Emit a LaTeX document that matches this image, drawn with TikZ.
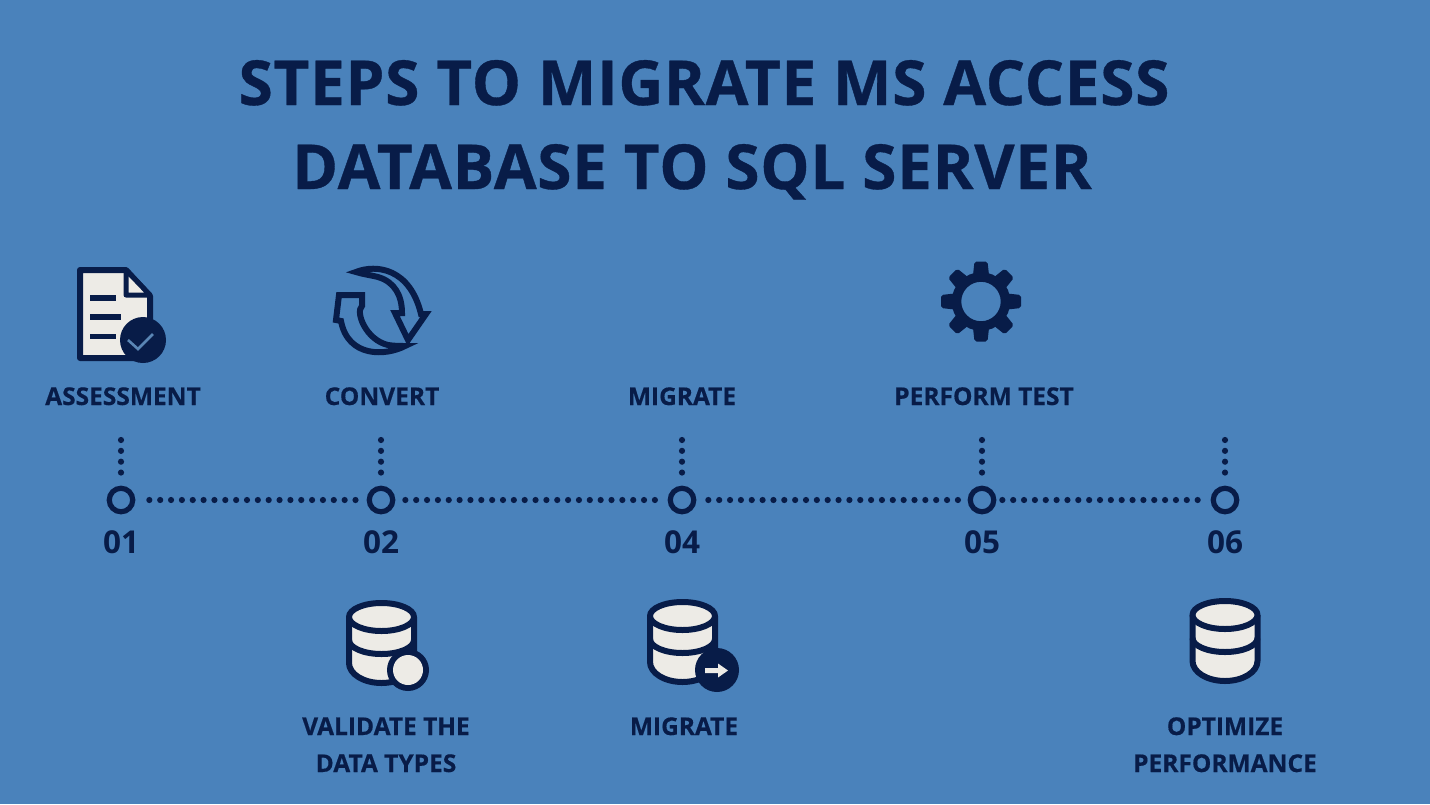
\documentclass[tikz,border=0pt]{standalone}
\usepackage{fontspec}
\setmainfont{Open Sans}
\newfontface\titlefont{Open Sans Bold}[LetterSpace=1.2,FakeBold=0.6]
\newfontface\labelfont{Open Sans Bold}[FakeBold=0.4]
\newfontface\numfont{Open Sans Bold}
\definecolor{bgblue}{HTML}{4A82BB}
\definecolor{navy}{HTML}{081C48}
\definecolor{paper}{HTML}{EDEBE6}
\definecolor{tick}{HTML}{5A86B5}
\tikzset{
  x=1pt,y=-1pt,
  titletext/.style={text=navy,anchor=base,inner sep=0pt,font=\titlefont\fontsize{62}{62}\selectfont},
  labeltext/.style={text=navy,anchor=base,inner sep=0pt,font=\labelfont\fontsize{24.5}{24.5}\selectfont},
  numtext/.style={text=navy,anchor=base,inner sep=0pt,font=\numfont\fontsize{31.5}{31.5}\selectfont},
  stepdot/.style={circle,draw=navy,line width=5.2pt,minimum size=23.5pt,inner sep=0pt},
  dotline/.style={draw=navy,line width=6.2pt,line cap=round,dash pattern=on 0pt off 10.85pt},
  iconline/.style={draw=navy,line width=6pt,line join=round},
  pics/dbicon/.style={code={
    \path[fill=paper] (-32.5,0) arc[start angle=180,end angle=360,x radius=32.5,y radius=14]
      -- (32.5,46) arc[start angle=0,end angle=180,x radius=32.5,y radius=20] -- cycle;
    \path[iconline] (-32.5,0) -- (-32.5,46) arc[start angle=180,end angle=0,x radius=32.5,y radius=20] -- (32.5,0);
    \path[iconline] (-32.5,23) arc[start angle=180,end angle=0,x radius=32.5,y radius=14];
    \path[iconline,fill=paper] (0,0) ellipse[x radius=32.5,y radius=14];
  }}
}
\begin{document}
\begin{tikzpicture}
\useasboundingbox (0,0) rectangle (1430,804);
\fill[bgblue] (0,0) rectangle (1430,804);
% title
\node[titletext] (t1) at (704,105) {STEPS TO MIGRATE MS ACCESS};
\node[titletext] (t2) at (692,189) {DATABASE TO SQL SERVER};
% document icon
\path[iconline,fill=paper,line width=6pt] (80,270) -- (126,270) -- (150,296) -- (150,358) -- (80,358) -- cycle;
\path[iconline,fill=paper,line width=5pt] (126,270) -- (126,295) -- (150,295) -- cycle;
\foreach \yy/\xe in {298/116,317/121,336.5/116}{\fill[navy] (90,\yy-2.8) rectangle (\xe,\yy+2.8);}
\fill[navy] (143,340) circle[radius=23];
\draw[tick,line width=2.6pt] (128,340) -- (138,349) -- (153,334);
% convert icon
\path[iconline,line width=6pt,line join=miter]
  (356,272) .. controls (376,264) and (410,268) .. (421,314)
  -- (426,314) -- (408,340) -- (395,313) -- (402,313)
  .. controls (402,296) and (395,282) .. (378,277) .. controls (370,275) and (362,274) .. (356,272) -- cycle;
\path[iconline,line width=6pt,line join=miter]
  (405,346) .. controls (386,356) and (348,358) .. (341,321)
  -- (336,320) -- (339,295) -- (362,295) -- (362,306)
  .. controls (355,312) and (366,340) .. (388,345) .. controls (394,346) and (400,346) .. (405,346) -- cycle;
% gear icon
\foreach \a in {0,45,...,315}{
  \fill[navy,rotate around={\a:(981,301.5)},rounded corners=2pt]
    (973,275) -- (974.5,261.5) -- (987.5,261.5) -- (989,275) -- cycle;
}
\draw[navy,line width=9.5pt] (981,301.5) circle[radius=24.5];
% database icons
\pic at (381.5,617) {dbicon};
\pic at (682.5,616) {dbicon};
\pic at (1225,615) {dbicon};
\fill[navy] (408,670) circle[radius=21];
\fill[paper] (408,670) circle[radius=15];
\fill[navy] (717,670) circle[radius=22];
\fill[paper] (705,668) -- (718,668) -- (718,663.5) -- (728,670.5) -- (718,677.5) -- (718,673) -- (705,673) -- cycle;
% upper labels
\node[labeltext] (l1) at (123,405) {ASSESSMENT};
\node[labeltext] (l2) at (382,405) {CONVERT};
\node[labeltext] (l3) at (682,405) {MIGRATE};
\node[labeltext] (l4) at (984,405) {PERFORM TEST};
% timeline
\node[stepdot] (c1) at (121,500) {};
\node[stepdot] (c2) at (381,500) {};
\node[stepdot] (c3) at (682,500) {};
\node[stepdot] (c4) at (982,500) {};
\node[stepdot] (c5) at (1225,500) {};
\coordinate (v1) at (121,440);
\coordinate (v2) at (381,440);
\coordinate (v3) at (682,440);
\coordinate (v4) at (982,440);
\coordinate (v5) at (1225,440);
\foreach \n in {1,...,5}{\draw[dotline,shorten >=12pt] (v\n) -- (c\n);}
\draw[dotline,shorten <=14pt,shorten >=9pt] (c1) -- (c2);
\draw[dotline,shorten <=10pt,shorten >=9pt] (c2) -- (c3);
\draw[dotline,shorten <=12pt,shorten >=9pt] (c3) -- (c4);
\draw[dotline,shorten <=6pt,shorten >=9pt] (c4) -- (c5);
% numbers
\node[numtext] (n1) at (121,553) {01};
\node[numtext] (n2) at (381,553) {02};
\node[numtext] (n3) at (682,553) {04};
\node[numtext] (n4) at (982,553) {05};
\node[numtext] (n5) at (1225,553) {06};
% lower labels
\node[labeltext] (b1) at (386,735) {VALIDATE THE};
\node[labeltext] (b2) at (386,772) {DATA TYPES};
\node[labeltext] (b3) at (684,735) {MIGRATE};
\node[labeltext] (b4) at (1225,735) {OPTIMIZE};
\node[labeltext] (b5) at (1225,772) {PERFORMANCE};
\end{tikzpicture}
\end{document}
